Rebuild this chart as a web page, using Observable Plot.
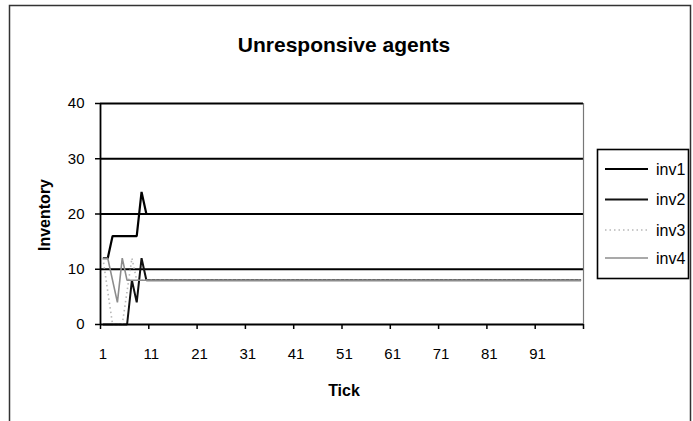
<!DOCTYPE html>
<html><head><meta charset="utf-8">
<script src="https://cdn.jsdelivr.net/npm/d3@7"></script>
<script src="https://cdn.jsdelivr.net/npm/@observablehq/plot@0.6"></script>
<style>
html,body{margin:0;padding:0;background:#fff;}
svg{display:block;}
</style>
</head><body>
<div id="chart"></div>
<script>
const title = "Unresponsive agents";
const xLabel = "Tick";
const yLabel = "Inventory";
const seriesNames = ["inv1", "inv2", "inv3", "inv4"];
const xTickLabels = [1, 11, 21, 31, 41, 51, 61, 71, 81, 91];
const yTickValues = [0, 10, 20, 30, 40];

const inv1 = [
  12,12,16,16,16,16,16,16,24,20,
  20,20,20,20,20,20,20,20,20,20,
  20,20,20,20,20,20,20,20,20,20,
  20,20,20,20,20,20,20,20,20,20,
  20,20,20,20,20,20,20,20,20,20,
  20,20,20,20,20,20,20,20,20,20,
  20,20,20,20,20,20,20,20,20,20,
  20,20,20,20,20,20,20,20,20,20,
  20,20,20,20,20,20,20,20,20,20,
  20,20,20,20,20,20,20,20,20,20
];
const inv2 = [
  0,0,0,0,0,0,8,4,12,8,
  8,8,8,8,8,8,8,8,8,8,
  8,8,8,8,8,8,8,8,8,8,
  8,8,8,8,8,8,8,8,8,8,
  8,8,8,8,8,8,8,8,8,8,
  8,8,8,8,8,8,8,8,8,8,
  8,8,8,8,8,8,8,8,8,8,
  8,8,8,8,8,8,8,8,8,8,
  8,8,8,8,8,8,8,8,8,8,
  8,8,8,8,8,8,8,8,8,8
];
const inv3 = [
  12,6,0,0,0,6,12,8,8,8,
  8,8,8,8,8,8,8,8,8,8,
  8,8,8,8,8,8,8,8,8,8,
  8,8,8,8,8,8,8,8,8,8,
  8,8,8,8,8,8,8,8,8,8,
  8,8,8,8,8,8,8,8,8,8,
  8,8,8,8,8,8,8,8,8,8,
  8,8,8,8,8,8,8,8,8,8,
  8,8,8,8,8,8,8,8,8,8,
  8,8,8,8,8,8,8,8,8,8
];
const inv4 = [
  12,12,8,4,12,8,8,8,8,8,
  8,8,8,8,8,8,8,8,8,8,
  8,8,8,8,8,8,8,8,8,8,
  8,8,8,8,8,8,8,8,8,8,
  8,8,8,8,8,8,8,8,8,8,
  8,8,8,8,8,8,8,8,8,8,
  8,8,8,8,8,8,8,8,8,8,
  8,8,8,8,8,8,8,8,8,8,
  8,8,8,8,8,8,8,8,8,8,
  8,8,8,8,8,8,8,8,8,8
];

const seriesValues = [inv1, inv2, inv3, inv4];
const styles = [
  {stroke: "#000", strokeWidth: 2.2, dash: null},
  {stroke: "#111", strokeWidth: 2.0, dash: null},
  {stroke: "#b8b8b8", strokeWidth: 1.6, dash: "1.5,3"},
  {stroke: "#8c8c8c", strokeWidth: 1.6, dash: null}
];

const rows = seriesValues.map((vals, s) => vals.map((v, i) => ({tick: i + 1, value: v, series: seriesNames[s]})));
const font = "Liberation Sans, Arial, sans-serif";

const W = 693, H = 421;
const mL = 100, mR = 110, mT = 103, mB = 97;

const boundaries = xTickLabels.map(t => t - 0.5).concat([100.5]);

const plot = Plot.plot({
  width: W, height: H,
  marginLeft: mL, marginRight: mR, marginTop: mT, marginBottom: mB,
  style: {fontFamily: font, fontSize: "15px", color: "#000", background: "#fff"},
  x: {type: "linear", domain: [0.5, 100.5]},
  y: {domain: [0, 40]},
  marks: [
    Plot.ruleY([10, 20, 30, 40], {stroke: "#000", strokeWidth: 1.8}),
    Plot.ruleX([100.5], {stroke: "#777", strokeWidth: 1.2}),
    ...rows.map((r, s) => Plot.line(r, {
      x: "tick", y: "value",
      stroke: styles[s].stroke, strokeWidth: styles[s].strokeWidth,
      strokeDasharray: styles[s].dash, strokeLinejoin: "miter", strokeLinecap: "butt"
    })),
    Plot.ruleX([0.5], {stroke: "#000", strokeWidth: 1.8}),
    Plot.ruleY([0], {stroke: "#000", strokeWidth: 1.8}),
    Plot.axisY({ticks: yTickValues, tickSize: 5, tickPadding: 11, label: null, stroke: "#000", strokeWidth: 1.5, fontSize: 15}),
    Plot.axisX({ticks: boundaries, tickSize: 5, tickFormat: () => "", label: null, stroke: "#000", strokeWidth: 1.5}),
    Plot.axisX({ticks: xTickLabels, tickSize: 0, tickPadding: 24, label: null, fontSize: 15})
  ]
});

document.getElementById("chart").appendChild(plot);
const svg = d3.select(plot);

// outer chart border
svg.append("path")
  .attr("d", `M9.5,${H} V5.5 H690.5 V${H}`)
  .attr("fill", "none").attr("stroke", "#333").attr("stroke-width", 1.5);

svg.append("text").text(title)
  .attr("x", 344).attr("y", 52).attr("text-anchor", "middle")
  .attr("font-family", font).attr("font-weight", "bold").attr("font-size", 21);

svg.append("text").text(xLabel)
  .attr("x", 344).attr("y", 396).attr("text-anchor", "middle")
  .attr("font-family", font).attr("font-weight", "bold").attr("font-size", 16);

svg.append("text").text(yLabel)
  .attr("transform", "translate(50,215) rotate(-90)").attr("text-anchor", "middle")
  .attr("font-family", font).attr("font-weight", "bold").attr("font-size", 16);

// legend
const lg = svg.append("g");
lg.append("rect").attr("x", 597.5).attr("y", 149.5).attr("width", 91).attr("height", 129)
  .attr("fill", "#fff").attr("stroke", "#000").attr("stroke-width", 1.6);
const legendY = [169, 199.5, 230, 258];
seriesNames.forEach((name, s) => {
  lg.append("line").attr("x1", 605).attr("x2", 648).attr("y1", legendY[s]).attr("y2", legendY[s])
    .attr("stroke", styles[s].stroke).attr("stroke-width", Math.min(styles[s].strokeWidth, 1.8))
    .attr("stroke-dasharray", styles[s].dash);
  lg.append("text").text(name).attr("x", 656).attr("y", legendY[s]).attr("dy", "0.35em")
    .attr("text-anchor", "start")
    .attr("font-family", font).attr("font-size", 16);
});
</script>
</body></html>
